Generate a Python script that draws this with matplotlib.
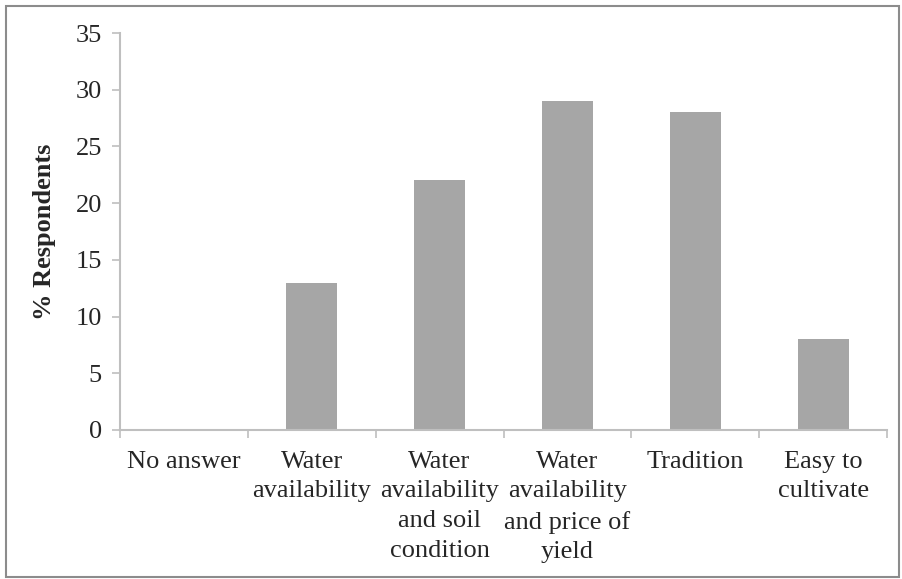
import numpy as np
import matplotlib.pyplot as plt

plt.rcParams["font.family"] = ["Liberation Serif", "DejaVu Serif"]

# data
categories = ["No answer", "Water\navailability", "Water\navailability\nand soil\ncondition",
              "Water\navailability\nand price of\nyield", "Tradition", "Easy to\ncultivate"]
respondents = [0, 13, 22, 29, 28, 8]
yticks = [0, 5, 10, 15, 20, 25, 30, 35]

fs = 19
barcolor = "#A6A6A6"
axcolor = "#BFBFBF"
txtcolor = "#262626"

fig = plt.figure(figsize=(9.02, 5.79), dpi=100)
ax = fig.add_axes([120/902, 1 - 430/579, (887-120)/902, (430-33)/579])

x = np.arange(len(categories))
ax.bar(x, respondents, width=0.4, color=barcolor)

ax.set_xlim(-0.5, len(categories) - 0.5)
ax.set_ylim(0, 35)
ax.set_yticks(yticks)
ax.set_yticklabels([str(v) for v in yticks], fontsize=fs, color=txtcolor)

# category labels centred, tick marks at category boundaries
ax.set_xticks(np.arange(len(categories) + 1) - 0.5)
ax.set_xticklabels([])
ax.set_xticks(x, minor=True)
ax.set_xticklabels(categories, minor=True, fontsize=fs, linespacing=1.45, va="top", color=txtcolor)
ax.tick_params(axis="x", which="minor", length=0, pad=15)
ax.tick_params(axis="x", which="major", length=6, color=axcolor, width=1.2)
ax.tick_params(axis="y", length=6, color=axcolor, width=1.2, pad=7)

for s in ["top", "right"]:
    ax.spines[s].set_visible(False)
for s in ["left", "bottom"]:
    ax.spines[s].set_color(axcolor)
    ax.spines[s].set_linewidth(1.5)

ax.set_ylabel("% Respondents", fontsize=fs, fontweight="bold", labelpad=14, color=txtcolor)

# outer frame
fig.patches.append(plt.Rectangle((6/902, 2/579), 893/902, 571/579, transform=fig.transFigure,
                                 fill=False, edgecolor="#8C8C8C", linewidth=1.5))

plt.savefig("out.png", dpi=100)
